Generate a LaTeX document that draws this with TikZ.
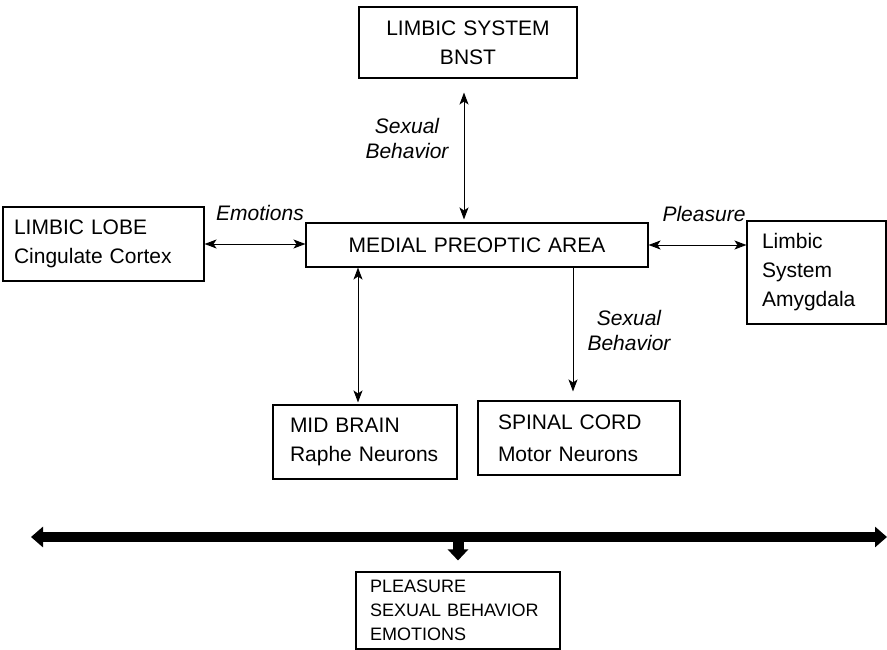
\documentclass[tikz,border=0pt]{standalone}
\usepackage{fontspec}
\setmainfont{Liberation Sans}
\usetikzlibrary{arrows.meta}
\tikzset{
  box/.style={draw, line width=1.1pt, inner ysep=0pt, font=\fontsize{21}{29}\selectfont},
  lbl/.style={align=center, font=\fontsize{21}{25}\selectfont\itshape},
  link/.style={line width=1pt, >={Stealth[length=12pt,width=9pt,inset=3pt]}},
  bar/.style={line width=10pt, {Triangle[width=20pt,length=12pt]}-{Triangle[width=20pt,length=12pt]}}
}
\begin{document}
\begin{tikzpicture}[x=1pt,y=-1pt]
\useasboundingbox (0,0) rectangle (887,650);

\node[box, align=center, text width=218pt, inner xsep=0pt, minimum height=71pt] (bnst) at (468,42.5) {LIMBIC SYSTEM\\BNST};
\node[box, align=center, text width=342pt, inner xsep=0pt, minimum height=44pt] (mpa) at (477,245) {MEDIAL PREOPTIC AREA};
\node[box, align=left, text width=179pt, inner xsep=11pt, minimum height=74pt] (lobe) at (103.5,244) {LIMBIC LOBE\\Cingulate Cortex};
\node[box, align=left, text width=109pt, inner xsep=15pt, minimum height=103pt] (amyg) at (816.5,272.5) {Limbic\\System\\Amygdala};
\node[box, align=left, text width=150pt, inner xsep=17pt, minimum height=74pt] (mid) at (365,442) {MID BRAIN\\Raphe Neurons};
\node[box, align=left, text width=162pt, inner xsep=20pt, minimum height=74pt, font=\fontsize{21}{32}\selectfont] (spinal) at (579,438) {SPINAL CORD\\Motor Neurons};
\node[box, align=left, text width=176pt, inner xsep=14pt, minimum height=77pt, font=\fontsize{18}{24}\selectfont] (result) at (458,610.5) {PLEASURE\\SEXUAL BEHAVIOR\\EMOTIONS};

\draw[link, <->] (lobe.east) -- (lobe.east -| mpa.west);
\draw[link, <->] (mpa.east) -- (mpa.east -| amyg.west);
\draw[link, <->, shorten <=3pt, shorten >=14pt] ([xshift=-13pt]mpa.north) -- ([xshift=-13pt]mpa.north |- bnst.south);
\draw[link, <->, shorten >=2pt] ([xshift=-7pt]mid.north |- mpa.south) -- ([xshift=-7pt]mid.north);
\draw[link, ->, shorten >=9pt] ([xshift=-6pt]spinal.north |- mpa.south) -- ([xshift=-6pt]spinal.north);

\node[lbl] (lemo) at (260,213) {Emotions};
\node[lbl] (lplea) at (704,214) {Pleasure};
\node[lbl] (lsex1) at (407,138) {Sexual\\Behavior};
\node[lbl] (lsex2) at (629,330) {Sexual\\Behavior};

\coordinate (barL) at (31,537);
\coordinate (barR) at (887,537);
\draw[bar] (barL) -- (barR);
\draw[line width=11pt, -{Triangle[width=20pt,length=11pt]}] (barL -| result.north) -- ([yshift=11pt]result.north);
\end{tikzpicture}
\end{document}
